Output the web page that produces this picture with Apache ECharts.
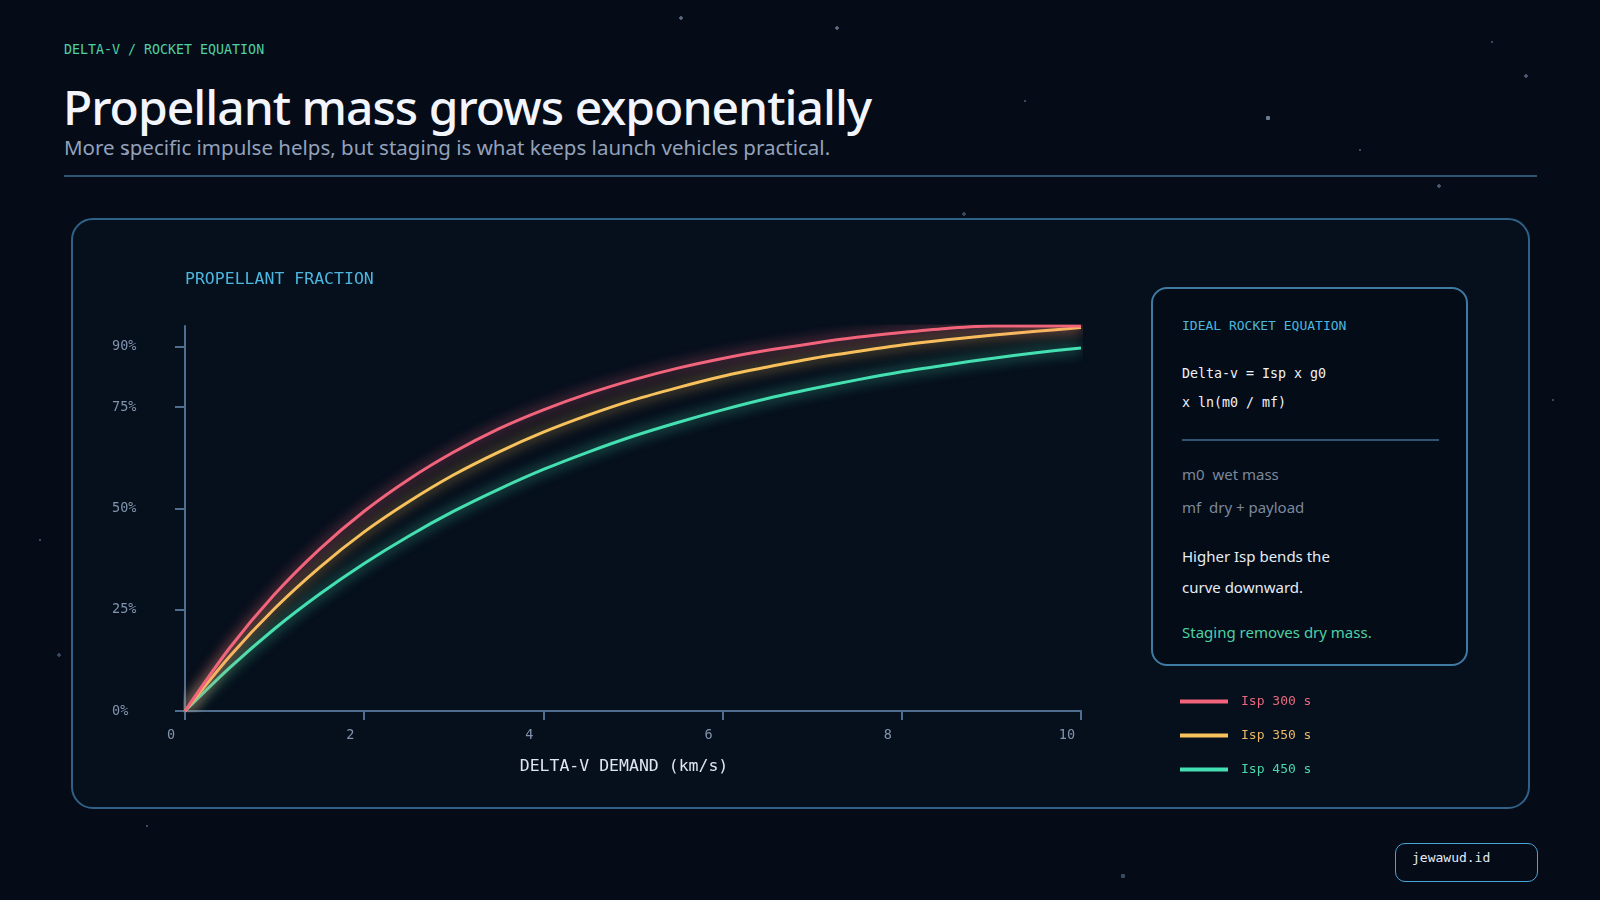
<!DOCTYPE html>
<html>
<head>
<meta charset="utf-8">
<title>Propellant mass grows exponentially</title>
<script src="https://cdn.jsdelivr.net/npm/echarts@6/dist/echarts.min.js"></script>
<style>
  html, body { margin: 0; padding: 0; }
  body {
    width: 1600px; height: 900px; overflow: hidden; position: relative;
    background-color: #050b17;
    background-image:
      radial-gradient(circle at 681px 18px, #5a6a80 1.5px, transparent 2px),
      radial-gradient(circle at 837px 28px, #5a6a80 1.5px, transparent 2px),
      radial-gradient(circle at 1268px 118px, #6a7a90 2px, transparent 2.5px),
      radial-gradient(circle at 1526px 76px, #4a5a70 1.5px, transparent 2px),
      radial-gradient(circle at 1439px 186px, #4a5a70 1.5px, transparent 2px),
      radial-gradient(circle at 964px 214px, #3a4a60 1.5px, transparent 2px),
      radial-gradient(circle at 1123px 876px, #3a4a60 2px, transparent 2.5px),
      radial-gradient(circle at 59px 655px, #3a4a60 1.5px, transparent 2px),
      radial-gradient(circle at 1025px 101px, #3a4a60 1px, transparent 1.5px),
      radial-gradient(circle at 147px 826px, #3a4a60 1px, transparent 1.5px),
      radial-gradient(circle at 1553px 400px, #3a4a60 1px, transparent 1.5px),
      radial-gradient(circle at 1360px 150px, #3a4a60 1px, transparent 1.5px),
      radial-gradient(circle at 127px 153px, #5a6a80 1.5px, transparent 2px),
      radial-gradient(circle at 1492px 42px, #3a4a60 1px, transparent 1.5px),
      radial-gradient(circle at 40px 540px, #3a4a60 1px, transparent 1.5px);
    font-family: "Noto Sans", sans-serif;
  }
  .mono { font-family: "DejaVu Sans Mono", monospace; }
  #kicker { position: absolute; left: 64px; top: 42px; font-size: 13.3px; color: #4fd1a5; }
  #title { position: absolute; left: 63px; top: 74px; font-size: 48px; font-weight: 500; color: #f2f5fb; letter-spacing: -1px; }
  #subtitle { position: absolute; left: 64px; top: 133px; font-size: 20.5px; color: #93a2bb; }
  #rule { position: absolute; left: 64px; top: 175px; width: 1473px; height: 2px; background: #2f5576; }
  #panel { position: absolute; left: 71px; top: 218px; width: 1459px; height: 591px;
    border: 2px solid #2f6286; border-radius: 22px; background: #060f1c; box-sizing: border-box; }
  #chart { position: absolute; left: 71px; top: 219px; width: 1458px; height: 588px; }
  #side { position: absolute; left: 1151px; top: 287px; width: 317px; height: 379px;
    border: 2px solid #3f7aa3; border-radius: 16px; background: #040c18; box-sizing: border-box; }
  #side .h { position: absolute; left: 29px; top: 29px; font-size: 13px; color: #4cb6df; }
  #side .eq { position: absolute; left: 29px; top: 70px; font-size: 13.3px; line-height: 29px; color: #eef2f8; }
  #side .div { position: absolute; left: 29px; top: 150px; width: 257px; height: 2px; background: #2f5576; }
  #side .def { position: absolute; left: 29px; top: 169px; font-size: 15px; line-height: 33px; color: #7c889c; }
  #side .note { position: absolute; left: 29px; top: 252px; font-size: 15px; line-height: 31px; color: #e6ecf5; }
  #side .stage { position: absolute; left: 29px; top: 333px; font-size: 15px; color: #4fd1a5; }
  #brand { position: absolute; left: 1395px; top: 843px; width: 143px; height: 39px;
    border: 1.5px solid #4aa3d6; border-radius: 10px; box-sizing: border-box; }
  #brand span { position: absolute; left: 16px; top: 6px; font-size: 13px; color: #e6ecf5; }
</style>
</head>
<body>
<div id="kicker" class="mono">DELTA-V / ROCKET EQUATION</div>
<div id="title">Propellant mass grows exponentially</div>
<div id="subtitle">More specific impulse helps, but staging is what keeps launch vehicles practical.</div>
<div id="rule"></div>
<div id="panel"></div>
<div id="chart"></div>
<div id="side">
  <div class="h mono">IDEAL ROCKET EQUATION</div>
  <div class="eq mono">Delta-v = Isp x g0<br>x ln(m0 / mf)</div>
  <div class="div"></div>
  <div class="def">m0&nbsp; wet mass<br>mf&nbsp; dry + payload</div>
  <div class="note">Higher Isp bends the<br>curve downward.</div>
  <div class="stage">Staging removes dry mass.</div>
</div>
<div id="brand"><span class="mono">jewawud.id</span></div>
<script>
'use strict';
// delta-v demand, km/s
var deltaV = [0, 0.5, 1, 1.5, 2, 2.5, 3, 3.5, 4, 4.5, 5, 5.5, 6, 6.5, 7, 7.5, 8, 8.5, 9, 9.5, 10];
// propellant fraction
var isp300 = [0, 0.156, 0.288, 0.399, 0.493, 0.572, 0.639, 0.696, 0.743, 0.783, 0.817, 0.846, 0.870, 0.890, 0.907, 0.922, 0.934, 0.944, 0.950, 0.950, 0.950];
var isp350 = [0, 0.135, 0.253, 0.354, 0.442, 0.517, 0.583, 0.639, 0.688, 0.730, 0.767, 0.798, 0.826, 0.849, 0.870, 0.887, 0.903, 0.916, 0.927, 0.937, 0.946];
var isp450 = [0, 0.107, 0.203, 0.288, 0.364, 0.432, 0.493, 0.547, 0.596, 0.639, 0.678, 0.712, 0.743, 0.771, 0.795, 0.817, 0.837, 0.854, 0.870, 0.884, 0.896];
var seriesNames = ['Isp 300 s', 'Isp 350 s', 'Isp 450 s'];
var seriesColors = ['#f2647c', '#f8c25c', '#45e0b2'];
var legendColors = ['#e8687e', '#e9b965', '#4dd6ac'];
var yTicks = [0, 0.25, 0.5, 0.75, 0.9];

var mono = '"DejaVu Sans Mono", monospace';
var axisColor = '#4f6d8f';

function pairs(ys) {
  var out = [];
  for (var i = 0; i < deltaV.length; i++) {
    out.push([deltaV[i], ys[i]]);
  }
  return out;
}

var allValues = [isp300, isp350, isp450];
var series = [];
for (var i = 0; i < seriesNames.length; i++) {
  series.push({
    name: seriesNames[i],
    type: 'line',
    data: pairs(allValues[i]),
    smooth: 0.3,
    showSymbol: false,
    z: 10 - i,
    lineStyle: {
      color: seriesColors[i],
      width: 3,
      shadowColor: seriesColors[i],
      shadowBlur: 14
    },
    itemStyle: { color: seriesColors[i] }
  });
}

var chart = echarts.init(document.getElementById('chart'), null, { renderer: 'canvas' });
chart.setOption({
  animation: false,
  backgroundColor: 'transparent',
  title: {
    text: 'PROPELLANT FRACTION',
    left: 109,
    top: 47,
    textStyle: { fontFamily: mono, fontSize: 16.5, fontWeight: 'normal', color: '#4cb6df' }
  },
  legend: {
    orient: 'vertical',
    left: 1104,
    top: 471,
    itemWidth: 48,
    itemHeight: 4,
    itemGap: 21,
    icon: 'rect',
    selectedMode: false,
    data: seriesNames.map(function(n, k) {
      return { name: n, itemStyle: { color: seriesColors[k] }, textStyle: { color: legendColors[k] } };
    }),
    textStyle: { fontFamily: mono, fontSize: 13, padding: [0, 0, 0, 8] }
  },
  grid: { left: 114, top: 107, width: 896, height: 385 },
  xAxis: {
    type: 'value',
    min: 0,
    max: 10,
    interval: 2,
    name: 'DELTA-V DEMAND (km/s)',
    nameLocation: 'middle',
    nameGap: 47,
    nameTextStyle: { fontFamily: mono, fontSize: 16.5, color: '#dfe6f0', padding: [0, 18, 0, 0] },
    axisLine: { lineStyle: { color: axisColor, width: 2 } },
    axisTick: { show: true, length: 9, lineStyle: { color: axisColor, width: 2 } },
    axisLabel: {
      fontFamily: mono, fontSize: 13.5, color: '#8194ad', margin: 17,
      padding: [0, 28, 0, 0]
    },
    splitLine: { show: false }
  },
  yAxis: {
    type: 'value',
    min: 0,
    max: 0.95,
    axisLine: { show: true, lineStyle: { color: axisColor, width: 2 } },
    axisTick: { show: true, length: 10, customValues: yTicks, lineStyle: { color: axisColor, width: 2 } },
    axisLabel: {
      customValues: yTicks,
      fontFamily: mono, fontSize: 13.5, color: '#8194ad',
      align: 'left', margin: 73, padding: [0, 0, 10, 0],
      formatter: function(v) { return Math.round(v * 100) + '%'; }
    },
    splitLine: { show: false }
  },
  series: series
});
</script>
</body>
</html>
